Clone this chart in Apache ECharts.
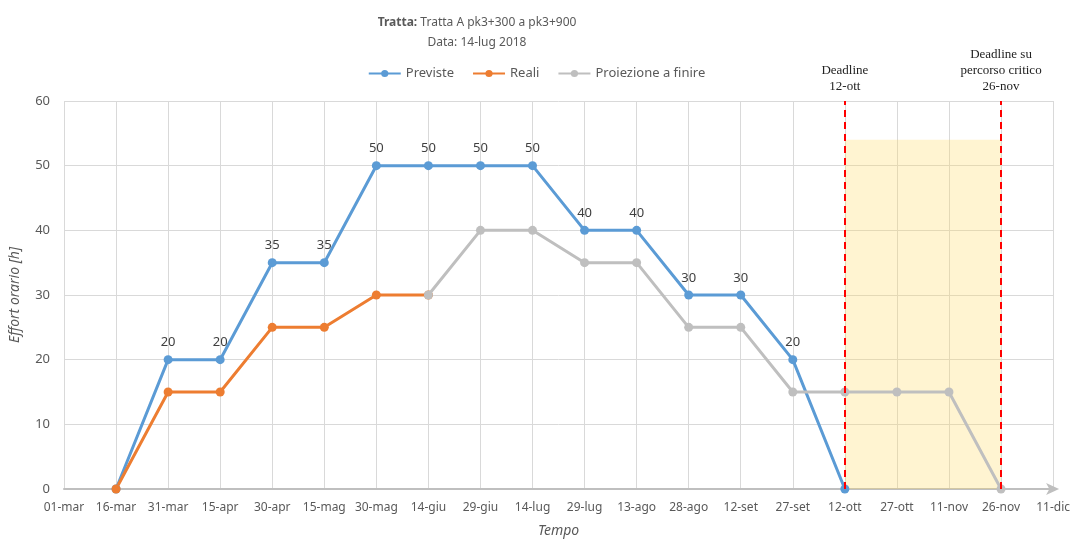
<!DOCTYPE html>
<html>
<head>
<meta charset="utf-8">
<script src="https://cdn.jsdelivr.net/npm/echarts@6/dist/echarts.min.js"></script>
<style>html,body{margin:0;padding:0;background:#fff;overflow:hidden;}#c{width:100vw;height:100vh;}</style>
</head>
<body>
<div id="c"></div>
<script>
const categories = ['01-mar','16-mar','31-mar','15-apr','30-apr','15-mag','30-mag','14-giu','29-giu','14-lug','29-lug','13-ago','28-ago','12-set','27-set','12-ott','27-ott','11-nov','26-nov','11-dic'];
const previste = [null,0,20,20,35,35,50,50,50,50,40,40,30,30,20,0,null,null,null,null];
const reali = [null,0,15,15,25,25,30,30,null,null,null,null,null,null,null,null,null,null,null,null];
const proiezione = [null,null,null,null,null,null,null,30,40,40,35,35,25,25,15,15,15,15,0,null];
const yTicks = {min:0, max:60, interval:10};
const deadline1 = '12-ott';
const deadline2 = '26-nov';
const shadeTop = 54;

const font = 'Noto Sans';
const chart = echarts.init(document.getElementById('c'));
chart.setOption({
  animation: false,
  textStyle: {fontFamily: font},
  title: {
    left: 472, top: 8, textAlign: 'center',
    text: '{b|Tratta:}{n| Tratta A pk3+300 a pk3+900}\n{n|Data: 14-lug 2018}',
    textStyle: {
      fontWeight: 'normal',
      rich: {
        b: {fontWeight: 'bold', fontSize: 12, color: '#595959', fontFamily: font, lineHeight: 20},
        n: {fontWeight: 'normal', fontSize: 12, color: '#595959', fontFamily: font, lineHeight: 20}
      }
    }
  },
  legend: {
    top: 62, left: 'center',
    itemWidth: 32, itemHeight: 9, itemGap: 18,
    data: ['Previste','Reali','Proiezione a finire'],
    textStyle: {color: '#595959', fontSize: 13, fontFamily: font}
  },
  grid: {left: 62, right: 19, top: 101, bottom: 39, containLabel: false},
  xAxis: {
    type: 'category', data: categories, boundaryGap: false,
    axisLine: {show: true, symbol: ['none','arrow'], symbolSize: [9,13], symbolOffset: [0, 6], lineStyle: {color: '#BFBFBF', width: 2}},
    axisTick: {show: false},
    axisLabel: {color: '#595959', fontSize: 12, margin: 13, interval: 0},
    splitLine: {show: true, lineStyle: {color: '#D9D9D9', width: 1}},
    name: 'Tempo', nameLocation: 'middle', nameGap: 35,
    nameTextStyle: {fontStyle: 'italic', fontSize: 14, color: '#595959'}
  },
  yAxis: {
    type: 'value', min: yTicks.min, max: yTicks.max, interval: yTicks.interval,
    axisLine: {show: false}, axisTick: {show: false},
    axisLabel: {color: '#595959', fontSize: 13, margin: 14},
    splitLine: {lineStyle: {color: '#D9D9D9', width: 1}},
    name: 'Effort orario [h]', nameLocation: 'middle', nameGap: 42,
    nameTextStyle: {fontStyle: 'italic', fontSize: 14, color: '#595959'}
  },
  series: [
    {
      name: 'Previste', type: 'line', data: previste,
      symbol: 'circle', symbolSize: 9, showAllSymbol: true,
      lineStyle: {color: '#5B9BD5', width: 3}, itemStyle: {color: '#5B9BD5'},
      label: {show: true, position: 'top', distance: 6, color: '#404040', fontSize: 13,
        formatter: p => (p.value === 0 || p.value == null) ? '' : String(p.value)},
      z: 3
    },
    {
      name: 'Reali', type: 'line', data: reali,
      symbol: 'circle', symbolSize: 9,
      lineStyle: {color: '#ED7D31', width: 3}, itemStyle: {color: '#ED7D31'},
      z: 3
    },
    {
      name: 'Proiezione a finire', type: 'line', data: proiezione,
      symbol: 'circle', symbolSize: 9,
      lineStyle: {color: '#BFBFBF', width: 3}, itemStyle: {color: '#BFBFBF'},
      z: 4,
      markArea: {
        silent: true,
        itemStyle: {color: 'rgba(255,217,102,0.3)'},
        data: [[{coord: [deadline1, 0]}, {coord: [deadline2, shadeTop]}]]
      },
      markLine: {
        silent: true, symbol: ['none','none'],
        lineStyle: {color: '#FF0000', width: 2, type: [7,5]},
        label: {show: true, position: 'end', distance: 6, fontFamily: 'Liberation Serif', fontSize: 13, lineHeight: 16, color: '#222'},
        data: [
          [{coord: [deadline1, 0], label: {formatter: 'Deadline\n12-ott'}}, {coord: [deadline1, 60]}],
          [{coord: [deadline2, 0], label: {formatter: 'Deadline su\npercorso critico\n26-nov'}}, {coord: [deadline2, 60]}]
        ]
      }
    }
  ]
});
</script>
</body>
</html>
